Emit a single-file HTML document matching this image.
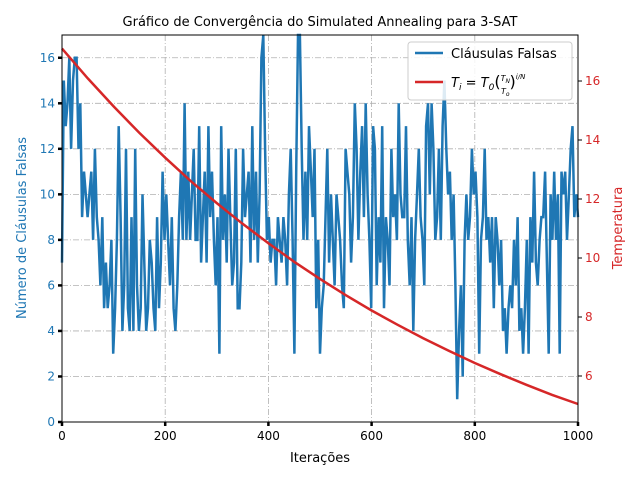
<!DOCTYPE html>
<html><head><meta charset="utf-8"><style>
body{margin:0;background:#fff;font-family:"Liberation Sans","DejaVu Sans",sans-serif}
</style></head><body>
<svg id="chart" width="640" height="480" xmlns="http://www.w3.org/2000/svg" font-family="DejaVu Sans, Liberation Sans, sans-serif">
<rect width="640" height="480" fill="#fff"/>
<text x="320" y="26" text-anchor="middle" font-size="13">Gráfico de Convergência do Simulated Annealing para 3-SAT</text>
<g id="grid"></g>
<g id="series"></g>
<rect x="62" y="35" width="516" height="387" fill="none" stroke="#000" stroke-width="1"/>
<g id="axes"></g>
<text x="320" y="462" text-anchor="middle" font-size="13">Iterações</text>
<text transform="translate(26,228) rotate(-90)" text-anchor="middle" font-size="13" fill="#1f77b4">Número de Cláusulas Falsas</text>
<text transform="translate(622,228) rotate(-90)" text-anchor="middle" font-size="13" fill="#d62728">Temperatura</text>
<g>
<rect x="408" y="42" width="164" height="58" rx="3" fill="#fff" fill-opacity="0.85" stroke="#ccc"/>
<line x1="415" y1="53" x2="443" y2="53" stroke="#1f77b4" stroke-width="2.5"/>
<text x="451" y="58" font-size="13">Cláusulas Falsas</text>
<line x1="415" y1="82" x2="443" y2="82" stroke="#d62728" stroke-width="2.5"/>
<text x="451" y="87" font-size="13" font-style="italic">T<tspan font-size="9" dy="3">i</tspan><tspan dy="-3" font-style="normal"> = </tspan>T<tspan font-size="9" dy="3">0</tspan><tspan dy="-3" font-style="normal" font-size="16">(</tspan><tspan font-size="8" dy="-6">T</tspan><tspan font-size="6" dy="2">N</tspan><tspan font-size="8" dx="-9" dy="11">T</tspan><tspan font-size="6" dy="2">o</tspan><tspan dy="-9" font-style="normal" font-size="16">)</tspan><tspan font-size="7" dy="-8">i/N</tspan></text>
</g>
</svg>
<script>
const falseClauses=[7,15,13,14,16,12,15,16,16,12,14,9,11,10,9,
10,11,8,12,9,8,6,9,5,7,5,6,8,3,5,8,
13,9,4,6,12,5,4,9,4,12,6,4,5,10,7,4,
5,8,7,5,4,9,5,7,11,8,10,8,6,9,5,
4,6,9,11,8,14,8,11,8,10,12,8,
8,13,7,9,11,7,13,9,11,8,6,9,3,13,8,
10,7,12,9,6,7,12,5,5,7,12,9,
10,11,7,13,8,11,7,10,16,17,12,8,9,
7,8,8,6,9,8,7,9,8,6,10,12,8,3,11,17,
17,12,8,11,8,13,11,9,12,5,8,3,5,6,9,12,
7,10,8,6,10,9,8,6,5,12,11,10,7,9,14,
12,8,11,13,9,14,10,8,5,13,12,6,9,
7,13,5,9,8,6,12,9,10,8,14,10,9,
9,13,8,6,9,4,8,10,12,9,8,6,13,14,
10,14,12,8,9,12,8,13,15,12,10,11,8,
10,6,1,4,6,2,8,10,8,9,12,10,11,
9,3,8,9,12,8,9,7,9,5,9,8,6,
8,4,5,3,5,6,5,8,6,9,4,5,3,5,8,
3,9,7,11,7,6,8,9,9,11,7,3,10,8,11,
8,10,3,11,10,11,8,10,12,13,9,10,9];
const tempIters=[0,50,100,150,200,250,300,350,400,450,500,550,600,650,700,750,800,850,900,950,1000];
const tempValues=[17.1,16.09,15.14,14.24,13.4,12.6,11.86,11.16,10.5,9.87,9.29,8.74,8.22,7.74,7.28,6.85,6.44,6.06,5.7,5.36,5.05];
const xTicks=[0,200,400,600,800,1000];
const yLeftTicks=[0,2,4,6,8,10,12,14,16];
const yRightTicks=[6,8,10,12,14,16];
const NS="http://www.w3.org/2000/svg";
const X0=62,X1=578,Y0=422,Y1=35;
const xs=v=>X0+(v/1000)*(X1-X0);
const yl=v=>Y0-(v/17)*(Y0-Y1);
const yr=v=>Y0-((v-4.44)/(17.56-4.44))*(Y0-Y1);
function mk(tag,attrs,parent){const e=document.createElementNS(NS,tag);for(const k in attrs)e.setAttribute(k,attrs[k]);parent.appendChild(e);return e;}
const grid=document.getElementById('grid'),axes=document.getElementById('axes'),series=document.getElementById('series');
const gs={stroke:"#b0b0b0","stroke-width":"0.8","stroke-dasharray":"6,2,1,2",fill:"none"};
xTicks.forEach(t=>{
  const g=mk('line',Object.assign({x1:xs(t),x2:xs(t),y1:Y1,y2:Y0},gs),grid);
  
  
  mk('line',{x1:xs(t),x2:xs(t),y1:Y0,y2:Y0+4,stroke:"#000","stroke-width":"2.5"},axes);
  const tx=mk('text',{x:xs(t),y:Y0+18,"text-anchor":"middle","font-size":"12"},axes);
  tx.textContent=t;
  
  
});
yLeftTicks.forEach(t=>{
  const g=mk('line',Object.assign({x1:X0,x2:X1,y1:yl(t),y2:yl(t)},gs),grid);
  
  
  mk('line',{x1:X0-4,x2:X0,y1:yl(t),y2:yl(t),stroke:"#000","stroke-width":"2.5"},axes);
  const tx=mk('text',{x:X0-7,y:yl(t)+4,"text-anchor":"end","font-size":"12",fill:"#1f77b4"},axes);
  tx.textContent=t;
  
  
});
yRightTicks.forEach(t=>{
  mk('line',{x1:X1,x2:X1+4,y1:yr(t),y2:yr(t),stroke:"#000","stroke-width":"1"},axes);
  const tx=mk('text',{x:X1+7,y:yr(t)+4,"font-size":"12",fill:"#d62728"},axes);
  tx.textContent=t;
  
  
});
const n=falseClauses.length;
const pts=falseClauses.map((v,i)=>xs(i*1000/(n-1)).toFixed(1)+','+yl(v).toFixed(1)).join(' ');
const bl=mk('polyline',{points:pts,fill:"none",stroke:"#1f77b4","stroke-width":"2.5","stroke-linejoin":"miter"},series);


const tp=tempIters.map((it,i)=>xs(it).toFixed(1)+','+yr(tempValues[i]).toFixed(1)).join(' ');
const rl=mk('polyline',{points:tp,fill:"none",stroke:"#d62728","stroke-width":"2.5"},series);


</script>
</body></html>
